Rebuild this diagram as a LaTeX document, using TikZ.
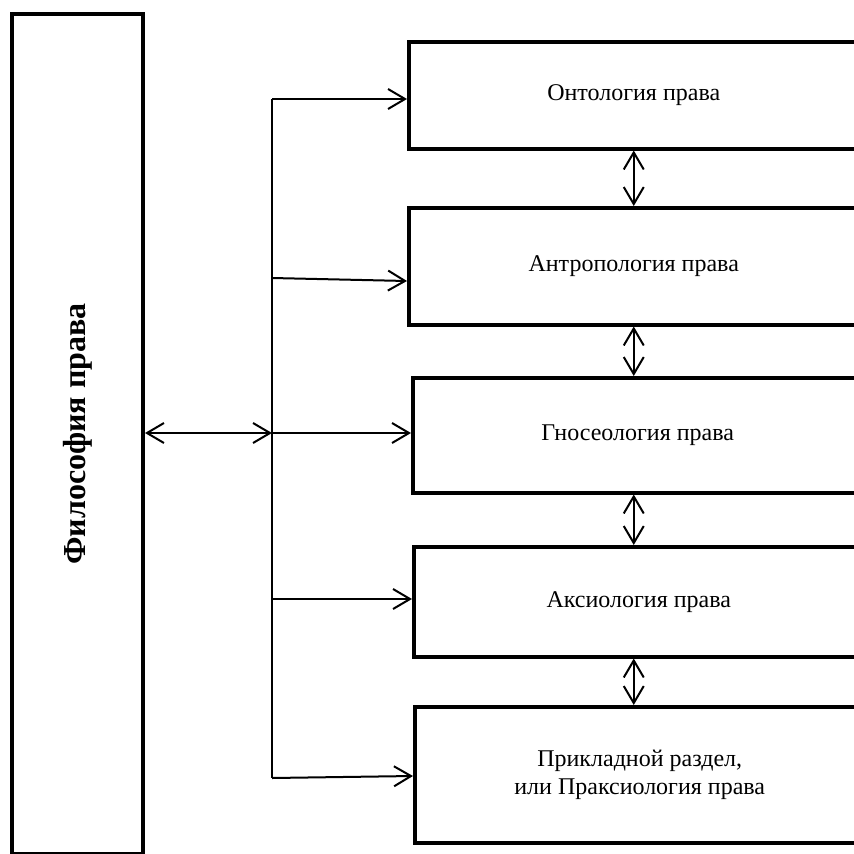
\documentclass[tikz,border=0pt]{standalone}
\usepackage{fontspec}
\usepackage{graphicx}
\setmainfont{Liberation Serif}
\usetikzlibrary{arrows.meta}

\begin{document}
\begin{tikzpicture}[x=1pt,y=-1pt,>={Straight Barb[length=17pt,width=20pt]},
    line width=2pt]
    \tikzstyle{branch}=[draw,line width=3.5pt,minimum width=450pt,anchor=north west,
      inner sep=0pt,align=center,font=\fontsize{24}{28}\selectfont]
    \clip (0,0) rectangle (854,854);

    \node[draw,line width=4pt,minimum width=131pt,minimum height=840pt,anchor=north west,
      inner sep=0pt,font=\fontsize{32}{36}\selectfont\bfseries]
      (phil) at (10,12) {\rotatebox{90}{Философия права}};

    \node[branch,minimum height=107pt] (onto)   at (407,40)  {Онтология права};
    \node[branch,minimum height=117pt] (anthro) at (407,206) {Антропология права};
    \node[branch,minimum height=115pt] (gnos)   at (411,376) {Гносеология права};
    \node[branch,minimum height=110pt] (axio)   at (412,545) {Аксиология права};
    \node[branch,minimum height=136pt] (prax)   at (413,705)
      {Прикладной раздел,\\или Праксиология права};

    \coordinate (t1) at (272,99);
    \coordinate (t2) at (272,278);
    \coordinate (t3) at (272,433);
    \coordinate (t4) at (272,599);
    \coordinate (t5) at (272,778);

    \draw[line width=1.5pt] (t1) -- (t5);
    \draw[<->] (phil.east |- t3) -- (t3);

    \draw[->] (t1) -- (t1 -| onto.west);
    \draw[->] (t2) -- ([yshift=-3pt]t2 -| anthro.west);
    \draw[->] (t3) -- (t3 -| gnos.west);
    \draw[->] (t4) -- (t4 -| axio.west);
    \draw[->] (t5) -- ([yshift=2pt]t5 -| prax.west);

    \draw[<->] (onto.south)   -- (onto.south |- anthro.north);
    \draw[<->] (anthro.south) -- (onto.south |- gnos.north);
    \draw[<->] (onto.south |- gnos.south) -- (onto.south |- axio.north);
    \draw[<->] (onto.south |- axio.south) -- (onto.south |- prax.north);
  \end{tikzpicture}
\end{document}
